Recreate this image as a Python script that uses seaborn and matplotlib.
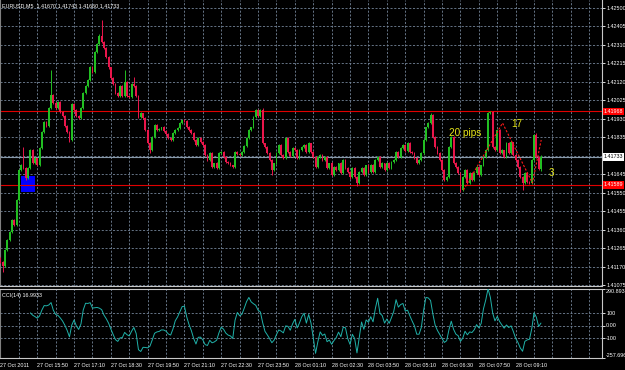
import numpy as np
import pandas as pd
import matplotlib
matplotlib.use("Agg")
import matplotlib.pyplot as plt
import matplotlib.transforms as mtransforms
import seaborn as sns

# ---------------- data (EURUSD M5) ----------------
first_open = 1.41214
close = [
    1.41193, 1.41173, 1.41255, 1.41306, 1.41347, 1.41409, 1.41383, 1.41511, 1.41666, 1.41691,
    1.41676, 1.41625, 1.41676, 1.41768, 1.41701, 1.41727, 1.41691, 1.41779, 1.41861, 1.41912,
    1.41892, 1.41984, 1.42051, 1.42010, 1.41984, 1.42015, 1.41964, 1.41943, 1.41892, 1.41861,
    1.41820, 1.42004, 1.41974, 1.41943, 1.41933, 1.41984, 1.42061, 1.42097, 1.42128, 1.42194,
    1.42169, 1.42271, 1.42313, 1.42354, 1.42323, 1.42292, 1.42246, 1.42194, 1.42138, 1.42107,
    1.42061, 1.42046, 1.42097, 1.42046, 1.42117, 1.42046, 1.42040, 1.42107, 1.42097, 1.42046,
    1.41938, 1.41958, 1.41933, 1.41871, 1.41804, 1.41768, 1.41835, 1.41897, 1.41871, 1.41876,
    1.41886, 1.41866, 1.41850, 1.41830, 1.41820, 1.41856, 1.41871, 1.41881, 1.41907, 1.41922,
    1.41917, 1.41886, 1.41871, 1.41856, 1.41820, 1.41794, 1.41830,
    1.41809, 1.41794, 1.41743, 1.41717, 1.41753, 1.41681, 1.41701, 1.41676, 1.41753, 1.41758,
    1.41732, 1.41707, 1.41701, 1.41691, 1.41681, 1.41758, 1.41748, 1.41743, 1.41758, 1.41789,
    1.41830, 1.41871, 1.41886, 1.41938, 1.41974, 1.41943, 1.41974, 1.41804, 1.41784, 1.41753,
    1.41717, 1.41666, 1.41701, 1.41753, 1.41794, 1.41743, 1.41727, 1.41830, 1.41758, 1.41737,
    1.41779, 1.41768, 1.41727, 1.41768, 1.41784, 1.41794, 1.41758, 1.41804, 1.41758, 1.41732,
    1.41681, 1.41732, 1.41743, 1.41717, 1.41732, 1.41676, 1.41701, 1.41640, 1.41681, 1.41666,
    1.41701, 1.41650, 1.41717, 1.41676, 1.41655, 1.41630, 1.41676, 1.41630, 1.41599, 1.41655,
    1.41676, 1.41640, 1.41691, 1.41655, 1.41691, 1.41655, 1.41717, 1.41732, 1.41681, 1.41701,
    1.41666, 1.41701, 1.41676, 1.41707, 1.41717, 1.41758, 1.41732, 1.41779, 1.41794, 1.41763,
    1.41804, 1.41758, 1.41753, 1.41727, 1.41701, 1.41717,
    1.41753, 1.41820, 1.41886, 1.41907, 1.41948, 1.41835, 1.41784, 1.41753, 1.41717, 1.41666,
    1.41614, 1.41630, 1.41784, 1.41835, 1.41701, 1.41681, 1.41650, 1.41563, 1.41630, 1.41666,
    1.41599, 1.41650, 1.41614, 1.41650, 1.41681, 1.41640, 1.41691, 1.41732, 1.41768, 1.41958,
    1.41964, 1.41784, 1.41768, 1.41871, 1.41753, 1.41768, 1.41732, 1.41804, 1.41753, 1.41809,
    1.41743, 1.41717, 1.41681, 1.41630, 1.41599, 1.41650, 1.41604, 1.41599, 1.41717, 1.41845,
    1.41732, 1.41670, 1.41733,
]
# wick lengths in points (0.00001)
upper_wick = [
    4, 3, 6, 5, 4, 7, 3, 5, 6, 4, 93, 5, 3, 8, 4, 6, 3, 5, 4, 6,
    3, 5, 128, 4, 6, 3, 5, 4, 7, 3, 5, 6, 4, 3, 6, 5, 4, 7, 3, 5,
    4, 6, 5, 8, 82, 5, 4, 6, 3, 5, 4, 6, 3, 5, 62, 4, 3, 6, 36, 5,
    4, 6, 3, 5, 4, 6, 3, 5, 4, 7, 3, 5, 6, 4, 3, 5, 6, 4, 7, 3,
    5, 4, 6, 3, 5, 4, 6,
    4, 6, 3, 5, 4, 6, 3, 5, 4, 6, 3, 5, 4, 6, 3, 5, 4, 6, 3, 5,
    4, 6, 3, 5, 5, 4, 6, 8, 3, 5, 4, 6, 3, 5, 4, 6, 3, 5, 4, 6,
    3, 5, 4, 6, 3, 5, 4, 6, 3, 5, 4, 6, 3, 5, 4, 6, 3, 5, 4, 6,
    3, 5, 4, 6, 3, 5, 4, 6, 3, 5, 4, 6, 3, 5, 4, 6, 3, 5, 4, 6,
    3, 5, 4, 6, 3, 5, 4, 6, 3, 5, 4, 6, 3, 5, 4, 6,
    4, 6, 3, 5, 10, 6, 3, 5, 4, 6, 3, 5, 4, 6, 3, 5, 4, 6, 3, 5,
    4, 6, 3, 5, 4, 6, 3, 5, 4, 5, 5, 6, 3, 5, 4, 6, 3, 5, 4, 6,
    3, 5, 4, 6, 3, 5, 4, 6, 3, 5, 11, 6, 10,
]
lower_wick = [
    5, 31, 4, 6, 3, 5, 7, 4, 6, 3, 5, 8, 4, 6, 3, 5, 4, 6, 3, 5,
    4, 6, 3, 5, 4, 7, 3, 5, 6, 4, 12, 5, 3, 6, 4, 5, 3, 6, 4, 5,
    3, 6, 4, 5, 3, 6, 4, 7, 5, 3, 6, 4, 5, 3, 6, 4, 5, 3, 6, 4,
    5, 3, 6, 4, 7, 15, 4, 6, 3, 5, 4, 6, 3, 5, 4, 6, 3, 5, 4, 6,
    3, 5, 4, 6, 3, 5, 4,
    5, 3, 6, 4, 5, 3, 6, 4, 5, 3, 6, 4, 5, 3, 6, 4, 5, 3, 6, 4,
    5, 3, 6, 4, 5, 3, 6, 4, 5, 3, 6, 26, 5, 3, 6, 4, 5, 3, 6, 4,
    5, 3, 6, 4, 5, 3, 6, 4, 5, 3, 6, 4, 5, 3, 6, 4, 5, 3, 6, 4,
    5, 3, 6, 4, 5, 10, 6, 4, 13, 3, 6, 4, 5, 3, 6, 4, 5, 3, 6, 4,
    5, 3, 6, 4, 5, 3, 6, 4, 5, 3, 6, 4, 5, 3, 6, 4,
    5, 3, 6, 4, 5, 3, 6, 4, 5, 3, 6, 4, 5, 3, 6, 4, 5, 10, 6, 4,
    5, 3, 6, 4, 5, 3, 6, 4, 5, 3, 6, 4, 5, 3, 6, 4, 5, 3, 6, 4,
    5, 3, 6, 4, 36, 4, 5, 3, 6, 4, 5, 3, 10,
]
time_labels = ["27 Oct 2011", "27 Oct 15:50", "27 Oct 17:10", "27 Oct 18:30", "27 Oct 19:50",
               "27 Oct 21:10", "27 Oct 22:30", "27 Oct 23:50", "28 Oct 01:10", "28 Oct 02:30",
               "28 Oct 03:50", "28 Oct 05:10", "28 Oct 06:30", "28 Oct 07:50", "28 Oct 09:10"]
price_ticks = [1.41075, 1.41170, 1.41265, 1.41360, 1.41455, 1.41550, 1.41645, 1.41740,
               1.41835, 1.41930, 1.42025, 1.42120, 1.42215, 1.42310, 1.42405, 1.42500]
red_levels = [1.41968, 1.41589]
bid_price = 1.41733
box_bars = [9, 15.2]
box_prices = [1.41553, 1.41635]
trend_bars = [201.3, 218.3, 231.3, 235.1]
trend_prices = [1.41563, 1.41907, 1.41599, 1.41820]
notes = [("20 pips", 195.0, 1.41856), ("17", 222.0, 1.41902), ("3", 238.3, 1.41650)]
cci_ticks = [290.8938, 100, 0, -100, -257.6966]
cci_tick_labels = ["290.8938", "100", "0.00", "-100", "-257.6966"]

# ---------------- prepare ----------------
n = len(close)
c = np.array(close)
o = np.concatenate([[first_open], c[:-1]])
h = np.maximum(o, c) + np.array(upper_wick) * 1e-5
l = np.minimum(o, c) - np.array(lower_wick) * 1e-5
idx = np.arange(n)
df = pd.DataFrame({"bar": idx, "open": o, "high": h, "low": l, "close": c})
tp = (df.high + df.low + df.close) / 3
sma = tp.rolling(14).mean()
md = tp.rolling(14).apply(lambda x: np.mean(np.abs(x - x.mean())), raw=True)
df["cci"] = (tp - sma) / (0.015 * md)

sns.set_style("dark")
plt.rcParams["font.family"] = ["Liberation Sans", "DejaVu Sans"]

W, H = 625, 370
fig = plt.figure(figsize=(W / 100, H / 100), dpi=100, facecolor="black")
axw = 602 / W
ax = fig.add_axes([0, 1 - 286 / H, axw, 286 / H], facecolor="black")
ax2 = fig.add_axes([0, 1 - 358 / H, axw, 69 / H], facecolor="black")

px_per_bar = 2.3
xmax = 602 / px_per_bar
grid_col = "#75859a"
fs = 3.9

for a in (ax, ax2):
    a.set_xlim(-0.2, xmax - 0.2)
    for xv in np.arange(0, xmax, 8):
        a.axvline(xv, color=grid_col, lw=0.6, ls=(0, (2.5, 2)), zorder=0)
    for s in a.spines.values():
        s.set_color("#c8c8c8")
        s.set_linewidth(0.8)
    a.spines["top"].set_visible(False)
    a.spines["left"].set_color("#808080")
    a.yaxis.tick_right()
    a.tick_params(axis="y", colors="white", labelsize=fs, length=2, width=0.6, pad=1)
    a.grid(False)

# main price panel
ax.set_ylim(1.41070, 1.42539)
for yv in price_ticks:
    ax.axhline(yv, color=grid_col, lw=0.6, ls=(0, (2.5, 2)), zorder=0)
ax.set_yticks(price_ticks)
# the bid-price box covers the tick label next to it
ax.set_yticklabels(["" if abs(v - bid_price) < 0.0002 else f"{v:.5f}" for v in price_ticks])
ax.set_xticks([])

up = df.close >= df.open
cols = np.where(up, "#22bf22", "#ea164b")
ax.vlines(df.bar, df.low, df.high, colors=cols, lw=0.7, zorder=3)
body = np.maximum(np.abs(df.close - df.open), 0.000025)
ax.bar(df.bar, body, bottom=np.minimum(df.open, df.close), width=0.75,
       color=cols, linewidth=0, zorder=4)

ax.fill_between(box_bars, box_prices[0], box_prices[1], color="#0000ff", lw=0, zorder=2)
for lv in red_levels:
    ax.axhline(lv, color="#e00000", lw=0.8, zorder=2)
ax.axhline(bid_price, color="#8899aa", lw=0.8, zorder=2)
ax.plot(trend_bars, trend_prices, color="#ff1a1a", lw=0.8, ls=(0, (2, 1.5)), zorder=5)
for txt, bx, py in notes:
    ax.text(bx, py, txt, color="#e6e619", fontsize=7.2, va="center", ha="left", zorder=6)

tr = mtransforms.blended_transform_factory(ax.transAxes, ax.transData)
for lv in red_levels:
    ax.text(1.003, lv, f"{lv:.5f}", transform=tr, color="white", fontsize=fs,
            va="center", ha="left", clip_on=False,
            bbox=dict(boxstyle="square,pad=0.2", fc="#ff0000", ec="none"))
ax.text(1.003, bid_price, f"{bid_price:.5f}", transform=tr, color="black", fontsize=fs,
        va="center", ha="left", clip_on=False,
        bbox=dict(boxstyle="square,pad=0.2", fc="white", ec="none"))

fig.text(2 / W, 1 - 6 / H, "EURUSD,M5  1.41670 1.41743 1.41660 1.41733",
         color="white", fontsize=fs, va="center", ha="left")

# CCI panel
ax2.set_ylim(cci_ticks[-1], cci_ticks[0])
for yv in [100, 0, -100]:
    ax2.axhline(yv, color=grid_col, lw=0.6, ls=(0, (2.5, 2)), zorder=0)
sns.lineplot(data=df, x="bar", y="cci", ax=ax2, color="#20b2aa", lw=0.7, zorder=3)
ax2.set_yticks(cci_ticks)
ax2.set_yticklabels(cci_tick_labels)
for lab, va in zip(ax2.get_yticklabels(), ["top", "center", "center", "center", "bottom"]):
    lab.set_verticalalignment(va)
ax2.spines["top"].set_visible(True)
ax2.set_xlabel("")
ax2.set_ylabel("")
ax2.set_xticks(np.arange(len(time_labels)) * 16)
ax2.set_xticklabels(time_labels, ha="left")
ax2.tick_params(axis="x", colors="white", labelsize=fs, length=2, width=0.6, pad=1.5)
ax2.text(2 / 602, 0.94, "CCI(14) 16.9933", transform=ax2.transAxes, color="white",
         fontsize=fs, va="top", ha="left")

fig.savefig("out.png", dpi=100, facecolor="black")
